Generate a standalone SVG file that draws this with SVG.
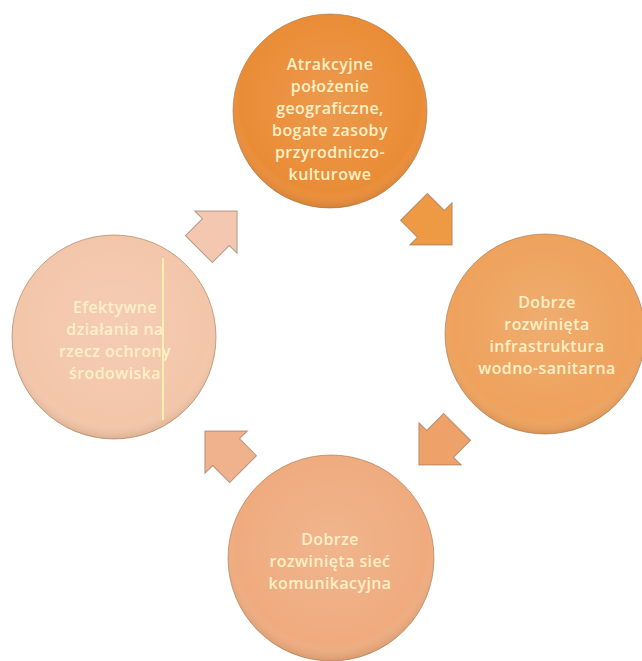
<svg xmlns="http://www.w3.org/2000/svg" width="642" height="661" viewBox="0 0 642 661">
<defs>
<radialGradient id="shade" cx="50%" cy="45%" r="55%">
<stop offset="0" stop-color="#ffffff" stop-opacity="0.12"/>
<stop offset="0.85" stop-color="#ffffff" stop-opacity="0"/>
<stop offset="1" stop-color="#7a4a20" stop-opacity="0.18"/>
</radialGradient>
<polygon id="arr" points="-27,-19 -3,-19 -3,-30 27,0 -3,30 -3,19 -27,19"/>
</defs>
<style>
.c{stroke:#a0734f;stroke-width:1;stroke-opacity:0.6}
.t{font-family:"Open Sans","Liberation Sans",sans-serif;font-size:16px;font-weight:600;letter-spacing:0.4px;fill:#fff0c6;text-anchor:middle}
.a{stroke:#8a6a55;stroke-width:1;stroke-opacity:0.6}
</style>
<rect width="642" height="661" fill="#ffffff"/>
<g id="connectors">
<use href="#arr" class="a" fill="#ee9a45" transform="translate(433,226) rotate(45)"/>
<use href="#arr" class="a" fill="#eea26a" transform="translate(438,446) rotate(135)"/>
<use href="#arr" class="a" fill="#f0b18d" transform="translate(224,450) rotate(225)"/>
<use href="#arr" class="a" fill="#f4c7b0" transform="translate(218,230) rotate(-45)"/>
</g>
<g id="node-top">
<circle cx="330" cy="111" r="97" fill="#ea8c36" class="c"/>
<circle cx="330" cy="111" r="97" fill="url(#shade)"/>
<text class="t" x="330" y="70">Atrakcyjne</text>
<text class="t" x="330" y="92">położenie</text>
<text class="t" x="330" y="114">geograficzne,</text>
<text class="t" x="330" y="136">bogate zasoby</text>
<text class="t" x="330" y="158">przyrodniczo-</text>
<text class="t" x="330" y="180">kulturowe</text>
</g>
<g id="node-right">
<circle cx="545" cy="334" r="100" fill="#eea25c" class="c"/>
<circle cx="545" cy="334" r="100" fill="url(#shade)"/>
<text class="t" x="547" y="308">Dobrze</text>
<text class="t" x="547" y="330">rozwinięta</text>
<text class="t" x="547" y="352">infrastruktura</text>
<text class="t" x="547" y="374">wodno-sanitarna</text>
</g>
<g id="node-bottom">
<circle cx="331" cy="558" r="103" fill="#efab7e" class="c"/>
<circle cx="331" cy="558" r="103" fill="url(#shade)"/>
<text class="t" x="330" y="545">Dobrze</text>
<text class="t" x="330" y="567">rozwinięta sieć</text>
<text class="t" x="330" y="589">komunikacyjna</text>
</g>
<g id="node-left">
<circle cx="114" cy="337" r="102" fill="#f3c6aa" class="c"/>
<circle cx="114" cy="337" r="102" fill="url(#shade)"/>
<line x1="163" y1="258" x2="163" y2="420" stroke="#fff3b0" stroke-width="2"/>
<text class="t" x="115" y="313">Efektywne</text>
<text class="t" x="115" y="335">działania na</text>
<text class="t" x="115" y="357">rzecz ochrony</text>
<text class="t" x="115" y="379">środowiska</text>
</g>
</svg>
